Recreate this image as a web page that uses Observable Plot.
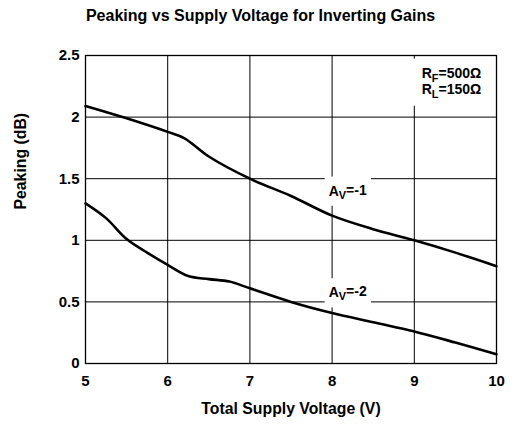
<!DOCTYPE html>
<html><head><meta charset="utf-8">
<script src="https://cdn.jsdelivr.net/npm/d3@7"></script>
<script src="https://cdn.jsdelivr.net/npm/@observablehq/plot@0.6"></script>
<style>
body{margin:0;background:#fff;font-family:"Liberation Sans",Arial,Helvetica,sans-serif;}
#title{width:505px;padding-left:8px;height:30px;line-height:31px;text-align:center;font-weight:bold;font-size:16px;color:#000;}
</style></head>
<body>
<div id="title">Peaking vs Supply Voltage for Inverting Gains</div>
<div id="chart"></div>
<script>
const voltageA1 = [5, 5.5, 6, 6.2, 6.5, 7, 7.5, 8, 8.5, 9, 9.5, 10];
const peakingA1 = [2.09, 1.99, 1.88, 1.83, 1.68, 1.50, 1.36, 1.20, 1.09, 1.00, 0.90, 0.79];
const voltageA2 = [5, 5.25, 5.5, 5.75, 6, 6.25, 6.5, 6.75, 7, 7.5, 8, 8.5, 9, 9.5, 10];
const peakingA2 = [1.30, 1.18, 1.01, 0.90, 0.80, 0.71, 0.685, 0.665, 0.61, 0.50, 0.41, 0.335, 0.26, 0.17, 0.075];
const xTicks = [5, 6, 7, 8, 9, 10];
const yTicks = [0, 0.5, 1, 1.5, 2, 2.5];
const curveLabels = ["A_V=-1", "A_V=-2"];
const curveLabelX = [8.19, 8.19];
const curveLabelY = [1.40, 0.575];
const noteLines = ["R_F=500Ω", "R_L=150Ω"];
const noteX = [9.09, 9.09];
const noteY = [2.35, 2.22];
const xTitle = "Total Supply Voltage (V)";
const yTitle = "Peaking (dB)";

const series = [
  ...voltageA1.map((v, i) => ({v, p: peakingA1[i], s: "A1"})),
  ...voltageA2.map((v, i) => ({v, p: peakingA2[i], s: "A2"}))
];
const labels = curveLabels.map((t, i) => ({t, x: curveLabelX[i], y: curveLabelY[i]}));
const notes = noteLines.map((t, i) => ({t, x: noteX[i], y: noteY[i]}));

const chart = Plot.plot({
  width: 513, height: 396,
  marginTop: 25, marginBottom: 63, marginLeft: 85, marginRight: 17,
  style: {fontFamily: '"Liberation Sans", Arial, sans-serif', fontWeight: "bold", fontSize: "15px", color: "#000", background: "#fff"},
  x: {domain: [5, 10]},
  y: {domain: [0, 2.5]},
  marks: [
    Plot.gridX(xTicks, {stroke: "#000", strokeOpacity: 1, strokeWidth: 1}),
    Plot.gridY(yTicks, {stroke: "#000", strokeOpacity: 1, strokeWidth: 1}),
    Plot.text(labels, {x: "x", y: "y", text: "t", fill: "#000", fontSize: 14, fontWeight: "bold"}),
    Plot.text(notes, {x: "x", y: "y", text: "t", textAnchor: "start", fill: "#000", fontSize: 14, fontWeight: "bold"}),
    Plot.line(series, {x: "v", y: "p", z: "s", stroke: "#000", strokeWidth: 2.6, curve: "catmull-rom"}),
    Plot.frame({stroke: "#000", strokeWidth: 1.3}),
    Plot.axisX(xTicks, {tickSize: 0, tickPadding: 12, label: null, fontSize: 15, fontWeight: "bold"}),
    Plot.axisY(yTicks, {tickSize: 0, tickPadding: 6, label: null, tickFormat: d => String(d), fontSize: 15, fontWeight: "bold"}),
    Plot.text([xTitle], {text: d => d, frameAnchor: "bottom", dy: 50, fontSize: 15.8, fontWeight: "bold"}),
    Plot.text([yTitle], {text: d => d, frameAnchor: "left", dx: -65, rotate: -90, fontSize: 15.8, fontWeight: "bold"})
  ]
});

document.getElementById("chart").appendChild(chart);

// subscripts (X_Y -> X with subscript Y) and white boxes behind annotations
d3.select(chart).selectAll("text").each(function() {
  const txt = this.textContent;
  if (!txt.includes("_")) return;
  const isNote = txt.startsWith("R");
  const el = d3.select(this);
  const m = txt.match(/^(.*?)_(.)(.*)$/);
  el.text(null);
  el.append("tspan").text(m[1]);
  el.append("tspan").attr("dy", "0.3em").attr("font-size", "0.78em").text(m[2]);
  el.append("tspan").attr("dy", "-0.3em").text(m[3]);
  const b = this.getBBox();
  const px = isNote ? 9 : 4, py = isNote ? 6 : 5;
  const r = document.createElementNS("http://www.w3.org/2000/svg", "rect");
  r.setAttribute("x", b.x - px);
  r.setAttribute("y", b.y - py);
  r.setAttribute("width", b.width + 2 * px);
  r.setAttribute("height", b.height + 2 * py);
  r.setAttribute("fill", "#fff");
  if (this.getAttribute("transform")) r.setAttribute("transform", this.getAttribute("transform"));
  this.parentNode.insertBefore(r, this.parentNode.firstChild);
});
</script>
</body></html>
